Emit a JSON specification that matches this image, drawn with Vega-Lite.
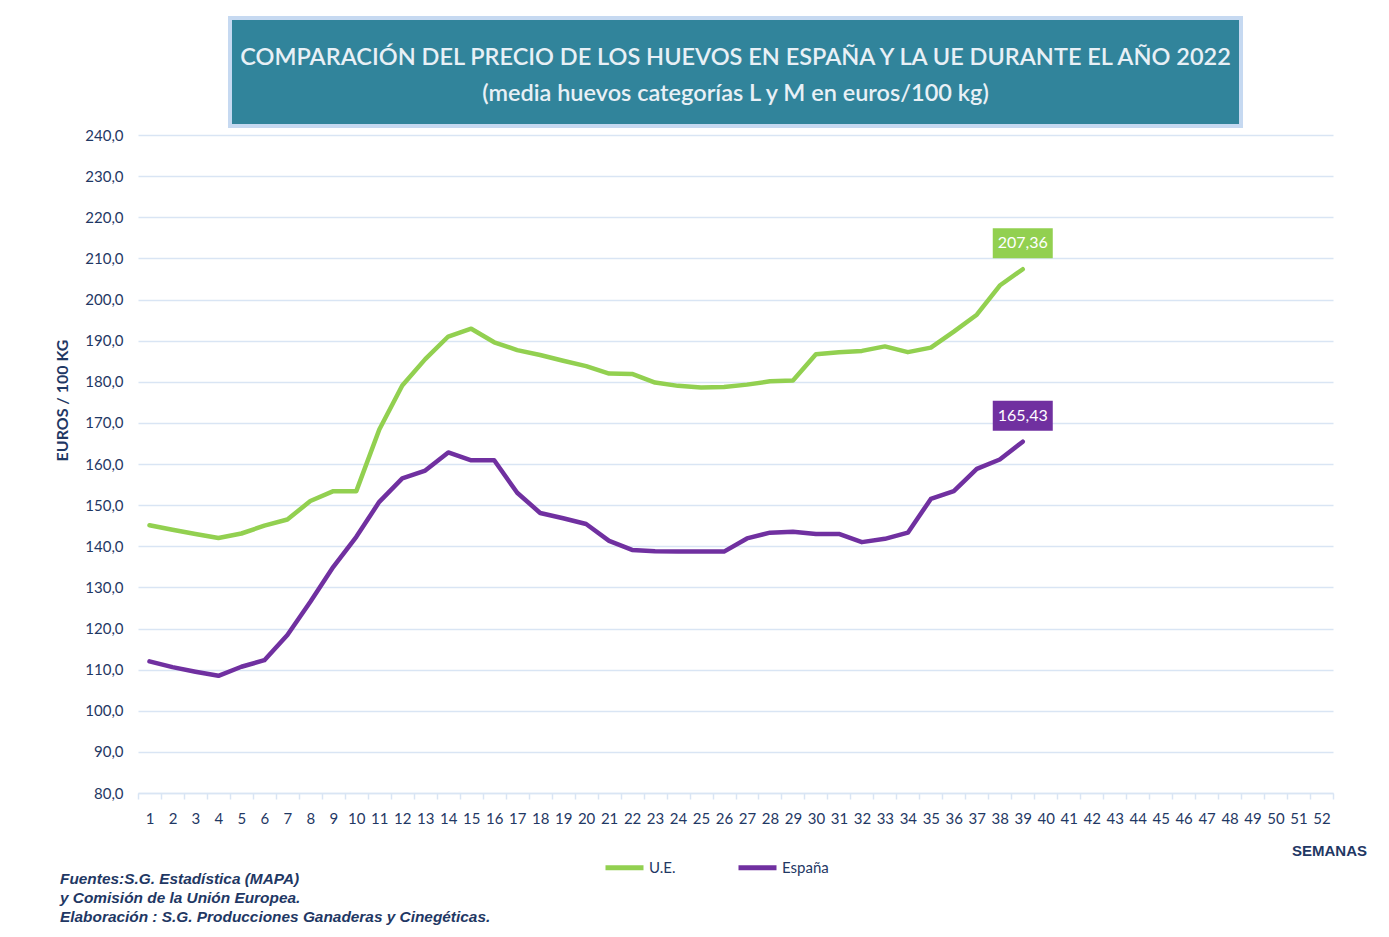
{
  "$schema": "https://vega.github.io/schema/vega-lite/v6.json",
  "background": "white",
  "padding": {"left": 54, "top": 16, "right": 0, "bottom": 0},
  "config": {
    "locale": {"number": {"decimal": ",", "thousands": ".", "grouping": [3], "currency": ["", " €"]}},
    "view": {"stroke": null}
  },
  "spacing": 9,
  "center": true,
  "bounds": "flush",
  "vconcat": [
    {
      "width": 1011,
      "height": 108,
      "view": {"fill": "#31849B", "stroke": "#C6D9F1", "strokeWidth": 4},
      "data": {"values": [{"t1": "COMPARACIÓN DEL PRECIO DE LOS HUEVOS EN ESPAÑA Y LA UE DURANTE EL AÑO 2022", "t2": "(media huevos categorías L y M en euros/100 kg)"}]},
      "layer": [
        {"mark": {"type": "text", "font": "Lato", "fontSize": 23.5, "fontWeight": 600, "color": "#E8F0F6", "baseline": "middle", "align": "center", "dy": -14}, "encoding": {"text": {"field": "t1"}}},
        {"mark": {"type": "text", "font": "Lato", "fontSize": 23.5, "fontWeight": 600, "color": "#E8F0F6", "baseline": "middle", "align": "center", "dy": 22}, "encoding": {"text": {"field": "t2"}}}
      ]
    },
    {
      "width": 1195,
      "height": 658,
      "title": {
        "text": ["Fuentes:S.G. Estadística (MAPA)", "y Comisión de la Unión Europea.", "Elaboración : S.G. Producciones Ganaderas y Cinegéticas."],
        "orient": "bottom", "anchor": "start", "frame": "bounds",
        "font": "Liberation Sans", "fontSize": 15.4, "fontStyle": "italic", "fontWeight": "bold",
        "color": "#1F3864", "lineHeight": 19, "offset": 14, "dx": 6
      },
      "data": {"values": [
        {"semana": 1, "serie": "U.E.", "precio": 145.1},
        {"semana": 2, "serie": "U.E.", "precio": 144.0},
        {"semana": 3, "serie": "U.E.", "precio": 143.0},
        {"semana": 4, "serie": "U.E.", "precio": 142.0},
        {"semana": 5, "serie": "U.E.", "precio": 143.1},
        {"semana": 6, "serie": "U.E.", "precio": 145.0},
        {"semana": 7, "serie": "U.E.", "precio": 146.5},
        {"semana": 8, "serie": "U.E.", "precio": 151.0},
        {"semana": 9, "serie": "U.E.", "precio": 153.4},
        {"semana": 10, "serie": "U.E.", "precio": 153.4},
        {"semana": 11, "serie": "U.E.", "precio": 168.4},
        {"semana": 12, "serie": "U.E.", "precio": 179.1},
        {"semana": 13, "serie": "U.E.", "precio": 185.5},
        {"semana": 14, "serie": "U.E.", "precio": 191.0},
        {"semana": 15, "serie": "U.E.", "precio": 192.9},
        {"semana": 16, "serie": "U.E.", "precio": 189.6},
        {"semana": 17, "serie": "U.E.", "precio": 187.7},
        {"semana": 18, "serie": "U.E.", "precio": 186.5},
        {"semana": 19, "serie": "U.E.", "precio": 185.1},
        {"semana": 20, "serie": "U.E.", "precio": 183.8},
        {"semana": 21, "serie": "U.E.", "precio": 182.0},
        {"semana": 22, "serie": "U.E.", "precio": 181.9},
        {"semana": 23, "serie": "U.E.", "precio": 179.8},
        {"semana": 24, "serie": "U.E.", "precio": 179.0},
        {"semana": 25, "serie": "U.E.", "precio": 178.6},
        {"semana": 26, "serie": "U.E.", "precio": 178.7},
        {"semana": 27, "serie": "U.E.", "precio": 179.3},
        {"semana": 28, "serie": "U.E.", "precio": 180.1},
        {"semana": 29, "serie": "U.E.", "precio": 180.3},
        {"semana": 30, "serie": "U.E.", "precio": 186.7},
        {"semana": 31, "serie": "U.E.", "precio": 187.2},
        {"semana": 32, "serie": "U.E.", "precio": 187.5},
        {"semana": 33, "serie": "U.E.", "precio": 188.6},
        {"semana": 34, "serie": "U.E.", "precio": 187.2},
        {"semana": 35, "serie": "U.E.", "precio": 188.3},
        {"semana": 36, "serie": "U.E.", "precio": 192.2},
        {"semana": 37, "serie": "U.E.", "precio": 196.3},
        {"semana": 38, "serie": "U.E.", "precio": 203.4},
        {"semana": 39, "serie": "U.E.", "precio": 207.36},
        {"semana": 1, "serie": "España", "precio": 112.0},
        {"semana": 2, "serie": "España", "precio": 110.6},
        {"semana": 3, "serie": "España", "precio": 109.5},
        {"semana": 4, "serie": "España", "precio": 108.5},
        {"semana": 5, "serie": "España", "precio": 110.7},
        {"semana": 6, "serie": "España", "precio": 112.3},
        {"semana": 7, "serie": "España", "precio": 118.4},
        {"semana": 8, "serie": "España", "precio": 126.5},
        {"semana": 9, "serie": "España", "precio": 135.0},
        {"semana": 10, "serie": "España", "precio": 142.3},
        {"semana": 11, "serie": "España", "precio": 150.8},
        {"semana": 12, "serie": "España", "precio": 156.5},
        {"semana": 13, "serie": "España", "precio": 158.4},
        {"semana": 14, "serie": "España", "precio": 162.8},
        {"semana": 15, "serie": "España", "precio": 160.9},
        {"semana": 16, "serie": "España", "precio": 160.9},
        {"semana": 17, "serie": "España", "precio": 153.0},
        {"semana": 18, "serie": "España", "precio": 148.1},
        {"semana": 19, "serie": "España", "precio": 146.8},
        {"semana": 20, "serie": "España", "precio": 145.4},
        {"semana": 21, "serie": "España", "precio": 141.3},
        {"semana": 22, "serie": "España", "precio": 139.1},
        {"semana": 23, "serie": "España", "precio": 138.8},
        {"semana": 24, "serie": "España", "precio": 138.7},
        {"semana": 25, "serie": "España", "precio": 138.7},
        {"semana": 26, "serie": "España", "precio": 138.7},
        {"semana": 27, "serie": "España", "precio": 141.9},
        {"semana": 28, "serie": "España", "precio": 143.3},
        {"semana": 29, "serie": "España", "precio": 143.5},
        {"semana": 30, "serie": "España", "precio": 143.0},
        {"semana": 31, "serie": "España", "precio": 143.0},
        {"semana": 32, "serie": "España", "precio": 141.0},
        {"semana": 33, "serie": "España", "precio": 141.8},
        {"semana": 34, "serie": "España", "precio": 143.3},
        {"semana": 35, "serie": "España", "precio": 151.5},
        {"semana": 36, "serie": "España", "precio": 153.4},
        {"semana": 37, "serie": "España", "precio": 158.8},
        {"semana": 38, "serie": "España", "precio": 161.1},
        {"semana": 39, "serie": "España", "precio": 165.43}
      ]},
      "encoding": {
        "x": {
          "field": "semana", "type": "ordinal", "bandPosition": 0.5,
          "scale": {"type": "band", "domain": [1,2,3,4,5,6,7,8,9,10,11,12,13,14,15,16,17,18,19,20,21,22,23,24,25,26,27,28,29,30,31,32,33,34,35,36,37,38,39,40,41,42,43,44,45,46,47,48,49,50,51,52], "paddingInner": 0, "paddingOuter": 0},
          "axis": {
            "title": "SEMANAS", "titleFont": "Liberation Sans", "titleFontSize": 15, "titleFontWeight": "bold", "titleColor": "#1F3864",
            "titleAnchor": "end", "titleAlign": "center", "titleBaseline": "middle", "titleX": 1191, "titleY": 57,
            "labelAngle": 0, "labelFont": "Lato", "labelFontSize": 15, "labelColor": "#1F3864", "labelPadding": 12,
            "tickBand": "extent", "tickExtra": true, "tickSize": 6, "tickColor": "#D9E5F4", "tickWidth": 1.5,
            "domainColor": "#D9E5F4", "domainWidth": 1.5, "grid": false
          }
        },
        "y": {
          "field": "precio", "type": "quantitative",
          "scale": {"domain": [80, 240], "nice": false, "zero": false},
          "axis": {
            "values": [80,90,100,110,120,130,140,150,160,170,180,190,200,210,220,230,240],
            "format": ".1f", "grid": true, "gridColor": "#D9E5F4", "gridWidth": 1.5,
            "ticks": false, "domain": false,
            "labelFont": "Lato", "labelFontSize": 15, "labelColor": "#1F3864", "labelPadding": 15,
            "title": "EUROS / 100 KG", "titleFont": "Lato", "titleFontSize": 16, "titleFontWeight": "bold", "titleColor": "#1F3864", "titlePadding": 14,
            "titleY": 265, "titleX": -68
          }
        },
        "color": {
          "field": "serie", "type": "nominal",
          "scale": {"domain": ["U.E.", "España"], "range": ["#92D050", "#7030A0"]},
          "legend": {
            "title": null, "orient": "none", "direction": "horizontal", "legendX": 465, "legendY": 828,
            "symbolType": "stroke", "symbolSize": 1444, "symbolStrokeWidth": 5,
            "labelFont": "Lato", "labelFontSize": 15, "labelColor": "#1F3864", "labelOffset": 3, "columnPadding": 52
          }
        }
      },
      "layer": [
        {"mark": {"type": "line", "strokeWidth": 4.5, "strokeCap": "round", "strokeJoin": "round"}},
        {
          "transform": [{"filter": "datum.semana == 39"}],
          "mark": {"type": "point", "shape": "M-1,-0.5L1,-0.5L1,0.5L-1,0.5Z", "size": 3600, "filled": true, "opacity": 1, "yOffset": -26, "strokeWidth": 0}
        },
        {
          "transform": [{"filter": "datum.semana == 39"}],
          "mark": {"type": "text", "font": "Lato", "fontSize": 16, "color": "white", "align": "center", "baseline": "middle", "yOffset": -26},
          "encoding": {"text": {"field": "precio", "type": "quantitative", "format": ".2f"}, "color": {"value": "white"}}
        }
      ]
    }
  ]
}
